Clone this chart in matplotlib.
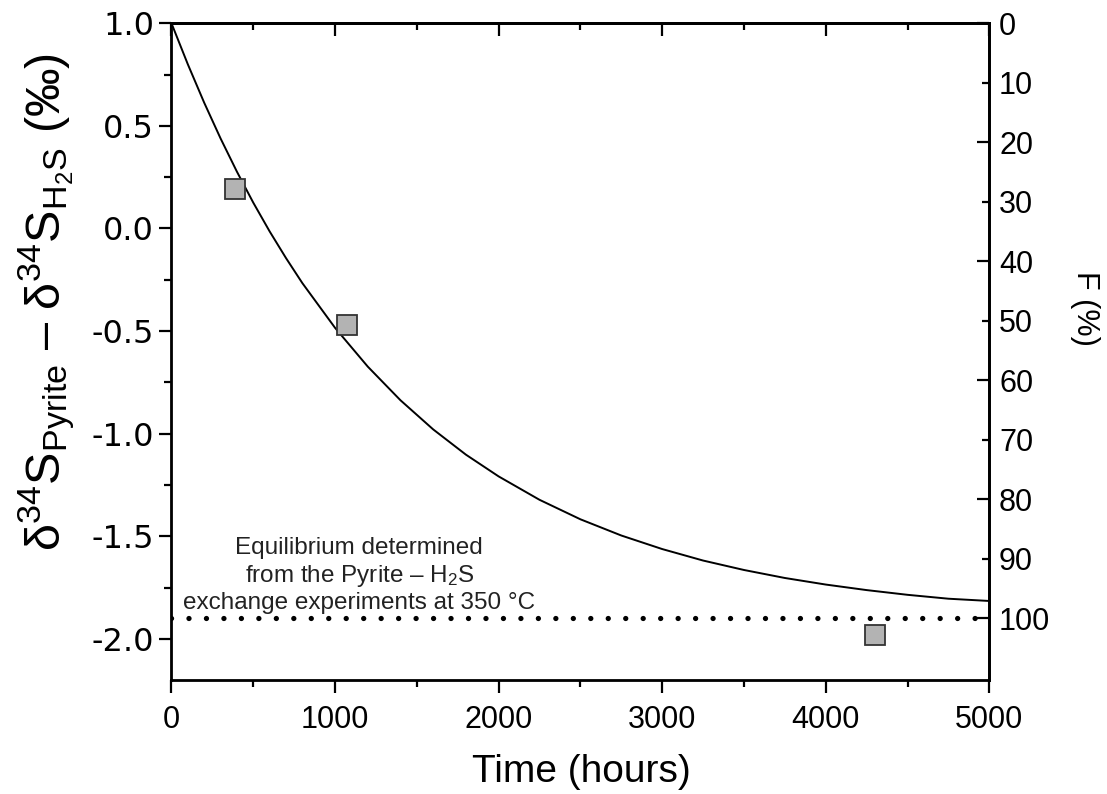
import matplotlib
matplotlib.use("Agg")
import matplotlib.pyplot as plt
from matplotlib.ticker import MultipleLocator, FixedLocator, FormatStrFormatter

plt.rcParams['font.family'] = ['Liberation Sans', 'DejaVu Sans']
plt.rcParams['mathtext.fontset'] = 'custom'
plt.rcParams['mathtext.rm'] = 'Liberation Sans'
plt.rcParams['mathtext.it'] = 'Liberation Sans'

# measured points
time_pts = [390, 1075, 4300]
delta_pts = [0.19, -0.47, -1.98]

# fitted curve, values
curve_t = [0, 100, 200, 300, 400, 500, 600, 700, 800, 1000, 1200, 1400, 1600,
           1800, 2000, 2250, 2500, 2750, 3000, 3250, 3500, 3750, 4000, 4250,
           4500, 4750, 5000]
curve_d = [1.0, 0.80, 0.613, 0.439, 0.277, 0.126, -0.014, -0.144, -0.266,
           -0.484, -0.673, -0.837, -0.979, -1.102, -1.208, -1.322, -1.417,
           -1.496, -1.562, -1.618, -1.664, -1.703, -1.735, -1.762, -1.785,
           -1.804, -1.815]

equilibrium = -1.9
y_ticks = [1.0, 0.5, 0.0, -0.5, -1.0, -1.5, -2.0]
y_labels = ["1.0", "0.5", "0.0", "-0.5", "-1.0", "-1.5", "-2.0"]
f_ticks = [0, 10, 20, 30, 40, 50, 60, 70, 80, 90, 100]

fig = plt.figure(figsize=(11.07, 7.94), dpi=100)
ax = fig.add_axes([0.1549, 0.1436, 0.8937 - 0.1549, 0.9707 - 0.1436])

ax.plot(curve_t, curve_d, color="black", linewidth=1.4, zorder=2)
ax.plot([0, 5000], [equilibrium, equilibrium], color="black", linewidth=3.8,
        linestyle=(0, (0.01, 3.3)), dash_capstyle="round", zorder=2)
ax.plot(time_pts, delta_pts, linestyle="none", marker="s", markersize=15,
        markerfacecolor="#b3b3b3", markeredgecolor="#333333",
        markeredgewidth=1.3, zorder=3)

ax.text(1148, -1.69, "Equilibrium determined\nfrom the Pyrite – H$_2$S\nexchange experiments at 350 °C",
        ha="center", va="center", fontsize=17.5, linespacing=1.2, color="#222222")

ax.set_xlim(0, 5000)
ax.set_ylim(-2.2, 1.0)
ax.xaxis.set_major_locator(MultipleLocator(1000))
ax.xaxis.set_minor_locator(MultipleLocator(500))
ax.set_yticks(y_ticks)
ax.set_yticklabels(y_labels, family="DejaVu Sans", fontsize=23)
ax.yaxis.set_minor_locator(MultipleLocator(0.25))

ax.tick_params(axis="both", which="major", width=1.6, length=9, direction="out")
ax.tick_params(axis="x", which="major", labelsize=22, pad=9)
ax.tick_params(axis="both", which="minor", width=1.6, length=5, direction="out")
for sp in ax.spines.values():
    sp.set_linewidth(2)

# top ticks point inward
sec = ax.secondary_xaxis("top")
sec.xaxis.set_major_locator(MultipleLocator(1000))
sec.xaxis.set_minor_locator(MultipleLocator(500))
sec.tick_params(which="major", direction="in", length=9, width=1.6, labeltop=False)
sec.tick_params(which="minor", direction="in", length=5, width=1.6)
sec.spines["top"].set_linewidth(2)

fig.text(581 / 1107, 1 - 772 / 794, "Time (hours)", fontsize=28,
         ha="center", va="center")
fig.text(47 / 1107, 1 - 302 / 794,
         r"δ$^{34}$S$_{\mathrm{Pyrite}}$ – δ$^{34}$S$_{\mathrm{H_2S}}$ (‰)",
         fontsize=35, rotation=90, ha="center", va="center")

ax2 = ax.twinx()
ax2.set_ylim((1.0 - (-2.2)) / (1.0 - equilibrium) * 100, 0)
ax2.yaxis.set_major_locator(FixedLocator(f_ticks[::2]))
ax2.yaxis.set_minor_locator(FixedLocator(f_ticks[1::2]))
ax2.yaxis.set_minor_formatter(FormatStrFormatter("%d"))
ax2.tick_params(which="major", direction="in", length=9, width=1.6, labelsize=22, pad=7)
ax2.tick_params(which="minor", direction="in", length=5, width=1.6, labelsize=22, pad=7)
ax2.spines["right"].set_linewidth(2)
fig.text(1085 / 1107, 1 - 308 / 794, "F (%)", fontsize=22, rotation=270,
         ha="center", va="center")

fig.savefig("out.png", dpi=100)
